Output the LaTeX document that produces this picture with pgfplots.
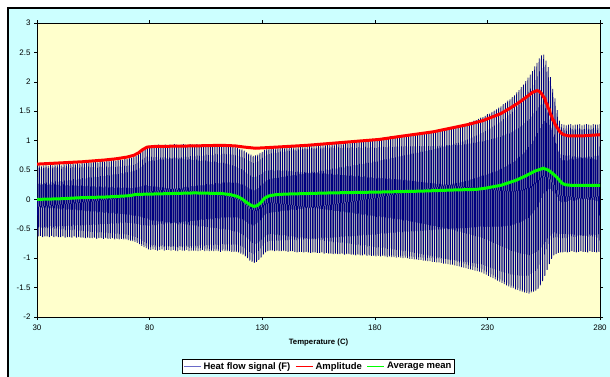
\documentclass[border=0pt]{standalone}
\usepackage{pgfplots}
\pgfplotsset{compat=1.18}
\usepackage{fontspec}
\setmainfont{Liberation Sans}
\definecolor{navyb}{HTML}{000080}
\definecolor{legblue}{HTML}{6A6AC8}
\definecolor{plotbg}{HTML}{FFFFCC}
\definecolor{chartbg}{HTML}{CCFFFF}
\definecolor{grn}{HTML}{00FF00}
\begin{document}
\begin{tikzpicture}[x=1bp,y=1bp]
\useasboundingbox (0,0) rectangle (610,376);
\fill[white] (0,0) rectangle (610,376);
\draw[line width=2bp, fill=chartbg] (7.5,-10) rectangle (620,367.5);
\begin{axis}[
  at={(37bp,59bp)}, anchor=south west,
  width=563bp, height=294bp, scale only axis,
  xmin=30, xmax=280, ymin=-2, ymax=3,
  xtick={30,80,130,180,230,280},
  ytick={-2,-1.5,-1,-0.5,0,0.5,1,1.5,2,2.5,3},
  /pgf/number format/assume math mode=true,
  /pgf/number format/.cd, fixed, precision=1, /pgfplots/.cd,
  tick align=outside, major tick length=3bp,
  tick style={black, line width=0.6bp},
  axis line style={black, line width=0.8bp},
  axis background/.style={fill=plotbg},
  ticklabel style={font=\fontsize{8}{9}\selectfont},
  xticklabel style={yshift=-1bp},
  xlabel={\textbf{Temperature (C)}},
  xlabel style={font=\fontsize{7.8}{9}\selectfont, at={(0.5,-0.088)}, anchor=center},
  legend style={at={(0.5,-0.168)}, anchor=center, legend columns=3, draw=black, line width=0.6bp, fill=white,
    font=\bfseries\fontsize{9.5}{10.5}\selectfont, inner sep=1.2bp,
    /tikz/every even column/.append style={column sep=3bp}},
  legend cell align=left,
  legend image code/.code={\draw[#1] (0bp,0bp) -- (17bp,0bp);},
]
\addplot[navyb, line width=0.75bp, smooth, tension=0.6, forget plot] coordinates {
(30,.57)(30.5,-.63)(31,.58)(31.5,-.62)(32,.56)(32.5,-.64)(33,.58)(33.5,-.63)(34,.59)(34.5,-.63)(35,.57)(35.5,-.64)(36,.59)(36.5,-.62)(37,.58)(37.5,-.64)(38,.60)(38.5,-.63)(39,.59)(39.5,-.64)
(40,.60)(40.5,-.64)(41,.58)(41.5,-.63)(42,.61)(42.5,-.65)(43,.60)(43.5,-.64)(44,.61)(44.5,-.64)(45,.60)(45.5,-.65)(46,.62)(46.5,-.63)(47,.61)(47.5,-.65)(48,.62)(48.5,-.64)(49,.61)(49.5,-.65)
(50,.63)(50.5,-.65)(51,.62)(51.5,-.66)(52,.63)(52.5,-.65)(53,.64)(53.5,-.66)(54,.63)(54.5,-.66)(55,.64)(55.5,-.65)(56,.64)(56.5,-.67)(57,.63)(57.5,-.66)(58,.65)(58.5,-.66)(59,.65)(59.5,-.67)(60,.64)
(60.5,-.66)(61,.66)(61.5,-.67)(62,.65)(62.5,-.67)(63,.66)(63.5,-.66)(64,.67)(64.5,-.68)(65,.66)(65.5,-.67)(66,.67)(66.5,-.68)(67,.68)(67.5,-.67)(68,.67)(68.5,-.68)(69,.69)(69.5,-.68)(70,.69)
(70.5,-.69)(71,.70)(71.5,-.70)(72,.71)(72.5,-.71)(73,.72)(73.5,-.72)(74,.74)(74.5,-.74)(75,.77)(75.5,-.76)(76,.80)(76.5,-.79)(77,.84)(77.5,-.81)(78,.88)(78.5,-.83)(79,.91)
(79.5,-.85)(80,.91)(80.5,-.86)(81,.92)(81.5,-.85)(82,.91)(82.5,-.86)(83,.92)(83.5,-.87)(84,.93)(84.5,-.86)(85,.92)(85.5,-.85)(86,.92)(86.5,-.87)(87,.93)(87.5,-.86)(88,.92)(88.5,-.86)(89,.93)(89.5,-.87)(90,.92)
(90.5,-.86)(91,.94)(91.5,-.87)(92,.93)(92.5,-.88)(93,.92)(93.5,-.86)(94,.93)(94.5,-.87)(95,.94)(95.5,-.87)(96,.93)(96.5,-.86)(97,.92)(97.5,-.88)(98,.94)(98.5,-.87)(99,.93)(99.5,-.87)(100,.93)
(100.5,-.87)(101,.94)(101.5,-.88)(102,.93)(102.5,-.87)(103,.92)(103.5,-.86)(104,.93)(104.5,-.88)(105,.94)(105.5,-.87)(106,.93)(106.5,-.88)(107,.93)(107.5,-.87)(108,.92)(108.5,-.88)(109,.94)(109.5,-.87)(110,.93)
(110.5,-.88)(111,.92)(111.5,-.89)(112,.93)(112.5,-.87)(113,.93)(113.5,-.88)(114,.92)(114.5,-.88)(115,.92)(115.5,-.88)(116,.91)(116.5,-.89)(117,.90)(117.5,-.89)(118,.89)(118.5,-.89)(119,.88)(119.5,-.90)(120,.86)
(120.5,-.92)(121,.85)(121.5,-.94)(122,.83)(122.5,-.97)(123,.80)(123.5,-1.00)(124,.78)(124.5,-1.04)(125,.76)(125.5,-1.06)(126,.74)(126.5,-1.08)(127,.75)(127.5,-1.06)(128,.76)(128.5,-1.03)(129,.79)(129.5,-.99)(130,.81)
(130.5,-.94)(131,.84)(131.5,-.90)(132,.86)(132.5,-.88)(133,.87)(133.5,-.87)(134,.88)
(134.5,-.87)(135,.89)(135.5,-.88)(136,.88)(136.5,-.87)(137,.89)(137.5,-.88)(138,.90)(138.5,-.88)(139,.89)(139.5,-.87)(140,.90)
(140.5,-.88)(141,.91)(141.5,-.89)(142,.90)(142.5,-.88)(143,.91)(143.5,-.88)(144,.91)(144.5,-.89)(145,.90)(145.5,-.90)(146,.92)(146.5,-.89)(147,.91)(147.5,-.89)(148,.92)(148.5,-.90)(149,.93)(149.5,-.89)(150,.92)
(150.5,-.90)(151,.92)(151.5,-.91)(152,.94)(152.5,-.90)(153,.93)(153.5,-.90)(154,.93)(154.5,-.91)(155,.95)(155.5,-.91)(156,.94)(156.5,-.90)(157,.94)(157.5,-.92)(158,.96)(158.5,-.91)(159,.95)(159.5,-.92)(160,.95)
(160.5,-.92)(161,.97)(161.5,-.93)(162,.96)(162.5,-.92)(163,.96)(163.5,-.93)(164,.98)(164.5,-.93)(165,.97)(165.5,-.92)(166,.97)(166.5,-.94)(167,.99)(167.5,-.93)(168,.98)(168.5,-.93)(169,.98)(169.5,-.94)(170,1.00)
(170.5,-.94)(171,.99)(171.5,-.95)(172,.99)(172.5,-.94)(173,1.01)(173.5,-.95)(174,1.00)(174.5,-.95)(175,1.00)(175.5,-.94)(176,1.02)(176.5,-.96)(177,1.01)(177.5,-.95)(178,1.01)(178.5,-.96)(179,1.03)(179.5,-.96)(180,1.02)
(180.5,-.97)(181,1.02)(181.5,-.96)(182,1.04)
(182.5,-.97)(183,1.04)(183.5,-.96)(184,1.05)(184.5,-.97)(185,1.05)(185.5,-.98)(186,1.05)(186.5,-.97)(187,1.07)(187.5,-.98)(188,1.06)(188.5,-.98)(189,1.07)(189.5,-.99)(190,1.08)
(190.5,-.98)(191,1.08)(191.5,-.99)(192,1.09)(192.5,-1.00)(193,1.09)(193.5,-.99)(194,1.10)(194.5,-1.00)(195,1.10)(195.5,-1.01)(196,1.11)(196.5,-1.01)(197,1.11)(197.5,-1.02)(198,1.12)(198.5,-1.02)(199,1.12)(199.5,-1.03)(200,1.13)
(200.5,-1.03)(201,1.13)(201.5,-1.04)(202,1.14)(202.5,-1.04)(203,1.14)(203.5,-1.05)(204,1.15)(204.5,-1.05)(205,1.15)(205.5,-1.06)(206,1.16)(206.5,-1.06)(207,1.17)(207.5,-1.07)(208,1.17)(208.5,-1.07)(209,1.18)(209.5,-1.08)(210,1.19)
(210.5,-1.09)(211,1.19)(211.5,-1.09)(212,1.21)(212.5,-1.10)(213,1.21)(213.5,-1.11)(214,1.22)(214.5,-1.11)(215,1.23)(215.5,-1.12)(216,1.24)(216.5,-1.13)(217,1.24)(217.5,-1.14)(218,1.26)(218.5,-1.15)(219,1.26)(219.5,-1.16)(220,1.28)
(220.5,-1.17)(221,1.29)(221.5,-1.18)(222,1.31)(222.5,-1.19)(223,1.32)(223.5,-1.20)(224,1.34)(224.5,-1.21)(225,1.35)(225.5,-1.22)(226,1.37)(226.5,-1.23)(227,1.39)(227.5,-1.24)(228,1.40)(228.5,-1.26)(229,1.42)(229.5,-1.28)(230,1.45)
(230.5,-1.30)(231,1.46)(231.5,-1.32)(232,1.49)(232.5,-1.34)(233,1.51)(233.5,-1.36)(234,1.53)(234.5,-1.38)(235,1.56)(235.5,-1.40)(236,1.58)(236.5,-1.42)(237,1.62)(237.5,-1.44)(238,1.64)(238.5,-1.46)(239,1.68)(239.5,-1.48)(240,1.70)
(240.5,-1.50)(241,1.74)(241.5,-1.51)(242,1.77)(242.5,-1.53)(243,1.82)(243.5,-1.54)(244,1.86)(244.5,-1.56)(245,1.91)(245.5,-1.57)(246,1.95)(246.5,-1.58)(247,2.01)(247.5,-1.59)(248,2.07)(248.5,-1.60)(249,2.12)(249.5,-1.58)(250,2.18)
(250.5,-1.57)(251,2.26)(251.5,-1.55)(252,2.32)(252.5,-1.52)(253,2.40)(253.5,-1.46)(254,2.45)(254.5,-1.39)(255,2.46)(255.5,-1.30)(256,2.36)(256.5,-1.20)(257,2.25)(257.5,-1.10)(258,2.08)(258.5,-1.01)(259,1.88)(259.5,-.95)(260,1.72)
(260.5,-.93)(261,1.52)(261.5,-.91)(262,1.34)
(262.5,-.90)(263,1.28)(263.5,-.90)(264,1.27)(264.5,-.89)(265,1.26)(265.5,-.90)(266,1.27)(266.5,-.89)(267,1.28)(267.5,-.88)(268,1.26)(268.5,-.89)(269,1.27)(269.5,-.90)(270,1.27)
(270.5,-.89)(271,1.28)(271.5,-.88)(272,1.26)(272.5,-.89)(273,1.27)(273.5,-.89)(274,1.28)(274.5,-.90)(275,1.27)(275.5,-.88)(276,1.26)(276.5,-.89)(277,1.28)(277.5,-.89)(278,1.27)(278.5,-.90)(279,1.27)(279.5,-.89)(280,1.28)
};
\addplot[red, line width=3bp, forget plot] coordinates {
(30,.60)(40,.62)(50,.64)(60,.67)(65,.69)(70,.72)(73,.75)(75,.79)(77,.85)(79,.89)(82,.90)(100,.91)(112,.92)(118,.91)(122,.89)(127,.87)(132,.88)(150,.92)(182,1.02)(191,1.07)(206,1.15)(221,1.27)(228,1.34)(236,1.46)(240,1.55)(244.5,1.66)(248,1.76)(250,1.82)(252,1.85)(253,1.84)(254,1.80)(255,1.74)(255.5,1.72)(256,1.64)(256.5,1.62)(257,1.55)(257.5,1.53)(258,1.45)(258.5,1.42)(259,1.35)(259.5,1.34)(260,1.28)(261,1.22)(262,1.16)(263,1.12)(264,1.10)(266,1.08)(272,1.08)(280,1.10)
};
\addplot[grn, line width=3bp, forget plot] coordinates {
(30,0)(40,.01)(50,.03)(60,.04)(70,.06)(72,.07)(74,.085)(80,.09)(90,.10)(100,.11)(112,.10)(116,.08)(119,.05)(121,.01)(123,-.05)(125,-.10)(126.5,-.12)(128,-.10)(129.5,-.05)(131,.02)(133,.06)(136,.08)(140,.09)(160,.11)(182,.125)(200,.14)(215,.16)(225,.17)(229,.19)(236,.24)(240,.29)(243,.33)(247,.40)(251,.48)(254.8,.53)(257,.50)(259,.44)(261,.37)(263,.28)(264.5,.25)(267,.24)(280,.24)
};
\addlegendimage{legblue, line width=1bp}
\addlegendentry{Heat flow signal (F)}
\addlegendimage{red, line width=1.2bp}
\addlegendentry{Amplitude}
\addlegendimage{grn, line width=1.2bp}
\addlegendentry{Average mean}
\end{axis}
\end{tikzpicture}
\end{document}
